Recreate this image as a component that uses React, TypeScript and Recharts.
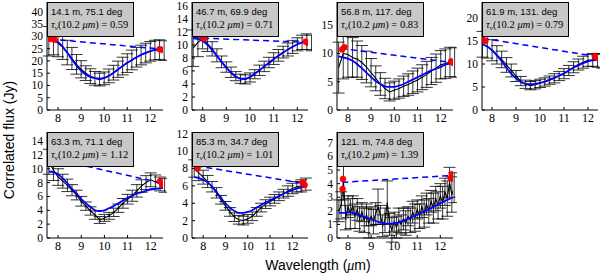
import { ComposedChart, Line, XAxis, YAxis, ErrorBar } from 'recharts';

// wavelength grids (micron)
const wl = [7.6, 7.8, 8.0, 8.2, 8.4, 8.6, 8.8, 9.0, 9.2, 9.4, 9.6, 9.8, 10.0, 10.2, 10.4, 10.6, 10.8, 11.0, 11.2, 11.4, 11.6, 11.8, 12.0, 12.2, 12.4, 12.6];
const wlFine = [
  7.6, 7.7, 7.8, 7.9, 8.0, 8.1, 8.2, 8.3, 8.4, 8.5, 8.6, 8.7, 8.8, 8.9, 9.0, 9.1, 9.2,
  9.3, 9.4, 9.5, 9.6, 9.7, 9.8, 9.9, 10.0, 10.1, 10.2, 10.3, 10.4, 10.5, 10.6, 10.7,
  10.8, 10.9, 11.0, 11.1, 11.2, 11.3, 11.4, 11.5, 11.6, 11.7, 11.8, 11.9, 12.0, 12.1,
  12.2, 12.3, 12.4, 12.5, 12.6,
];
const xTicks = [8, 9, 10, 11, 12];

// correlated flux (Jy), error, model
const flux1 = [28.0, 28.5, 27.2, 25.6, 23.4, 21.0, 18.6, 16.6, 15.0, 13.8, 12.9, 12.4, 12.9, 13.9, 15.2, 16.6, 17.9, 19.1, 20.4, 21.5, 22.4, 23.2, 23.9, 24.4, 24.6, 24.2];
const err1 = [6, 6, 5.5, 5, 5, 4.5, 4, 3.5, 3, 3, 2.8, 2.6, 2.6, 2.8, 3, 3.3, 3.6, 3.8, 4, 4, 4, 4, 4, 4, 4, 4];
const model1 = [29.0, 28.6, 27.6, 25.8, 23.3, 20.6, 18.1, 16.0, 14.5, 13.5, 13.0, 12.8, 13.1, 13.9, 15.1, 16.5, 17.9, 19.2, 20.4, 21.5, 22.5, 23.3, 24.0, 24.5, 24.8, 24.9];

const flux2 = [9.5, 10.4, 10.9, 10.2, 9.4, 8.4, 7.4, 6.6, 5.8, 5.2, 4.8, 4.7, 5.0, 5.5, 6.1, 6.7, 7.3, 7.9, 8.4, 8.9, 9.3, 9.7, 10.1, 10.4, 10.5, 10.3];
const err2 = [2.8, 2.2, 1.5, 1.2, 1.1, 1.0, 0.9, 0.8, 0.8, 0.7, 0.7, 0.7, 0.7, 0.7, 0.8, 0.8, 0.8, 0.9, 0.9, 0.9, 1.0, 1.0, 1.0, 1.1, 1.2, 1.2];
const model2 = [11.0, 10.9, 10.6, 10.0, 9.2, 8.3, 7.4, 6.5, 5.7, 5.1, 4.8, 4.8, 5.1, 5.6, 6.1, 6.7, 7.2, 7.8, 8.3, 8.8, 9.3, 9.7, 10.1, 10.4, 10.6, 10.7];

const flux3 = [7.5, 10.0, 9.8, 9.3, 9.0, 8.4, 7.6, 6.6, 5.6, 4.6, 3.8, 3.2, 3.5, 3.8, 4.2, 4.5, 4.9, 5.3, 5.8, 6.3, 6.9, 7.4, 8.0, 8.2, 8.5, 8.4];
const err3 = [4.5, 4.5, 4, 3.5, 3.2, 3, 2.8, 2.5, 2.2, 2, 1.8, 1.6, 1.6, 1.7, 1.8, 1.9, 2, 2.1, 2.2, 2.3, 2.4, 2.5, 2.5, 2.6, 2.6, 2.6];
const model3 = [9.5, 9.3, 9.1, 8.7, 8.1, 7.4, 6.6, 5.8, 5.1, 4.6, 4.2, 4.1, 4.1, 4.3, 4.6, 5.0, 5.4, 5.8, 6.2, 6.6, 7.0, 7.3, 7.6, 8.0, 8.2, 8.3];

const flux4 = [14.3, 13.8, 13.0, 12.0, 11.0, 9.8, 8.6, 7.4, 6.3, 5.6, 5.3, 5.5, 5.8, 6.1, 6.5, 6.9, 7.4, 7.9, 8.6, 9.3, 9.9, 10.4, 10.8, 10.9, 10.8, 10.6];
const err4 = [2.8, 2.5, 2.3, 2.0, 1.8, 1.6, 1.4, 1.2, 1.0, 0.9, 0.9, 0.9, 0.9, 0.9, 0.9, 1.0, 1.0, 1.1, 1.1, 1.2, 1.2, 1.3, 1.3, 1.4, 1.5, 1.5];
const model4 = [14.3, 13.8, 13.0, 11.9, 10.6, 9.2, 7.9, 6.9, 6.1, 5.7, 5.6, 5.7, 5.9, 6.2, 6.6, 7.0, 7.5, 8.0, 8.6, 9.2, 9.7, 10.2, 10.6, 10.8, 10.9, 10.9];

const flux5 = [11.0, 9.8, 8.8, 8.2, 7.6, 6.9, 6.2, 5.3, 4.6, 3.9, 3.3, 2.6, 2.9, 3.2, 3.7, 4.3, 5.0, 5.6, 6.1, 6.8, 7.5, 8.0, 8.4, 8.1, 7.8, 7.6];
const err5 = [1.8, 1.5, 1.2, 1.0, 0.9, 0.8, 0.7, 0.7, 0.6, 0.6, 0.6, 0.5, 0.5, 0.5, 0.6, 0.6, 0.7, 0.7, 0.8, 0.9, 0.9, 1.0, 1.0, 1.0, 1.0, 1.0];
const model5 = [9.6, 9.5, 9.2, 8.6, 7.9, 7.1, 6.4, 5.6, 5.0, 4.5, 4.0, 3.9, 4.0, 4.3, 4.6, 5.0, 5.4, 5.8, 6.1, 6.4, 6.6, 6.8, 7.0, 7.1, 7.2, 7.2];

const flux6 = [8.0, 7.5, 7.0, 6.5, 5.9, 5.2, 4.4, 3.7, 3.0, 2.4, 2.1, 2.0, 2.2, 2.5, 3.0, 3.5, 3.9, 4.2, 4.5, 4.8, 5.1, 5.4, 5.7, 5.9, 6.0, 6.2];
const err6 = [1.0, 0.9, 0.8, 0.7, 0.6, 0.6, 0.5, 0.5, 0.5, 0.5, 0.5, 0.5, 0.5, 0.5, 0.5, 0.5, 0.5, 0.5, 0.5, 0.5, 0.5, 0.6, 0.6, 0.6, 0.7, 0.7];
const model6 = [7.0, 6.9, 6.7, 6.4, 5.9, 5.3, 4.6, 4.0, 3.5, 3.1, 2.9, 2.9, 3.0, 3.2, 3.5, 3.8, 4.1, 4.3, 4.6, 4.8, 5.1, 5.3, 5.5, 5.7, 5.8, 5.9];

// longest baseline: noisy, sampled on the fine grid
const flux7 = [
  2.0, 2.4, 4.2, 1.5, 2.3, 1.8, 2.4, 1.6, 2.1, 1.4, 1.9, 1.3, 1.7, 1.1, 1.6, 1.2, 1.8,
  2.3, 1.7, 0.9, 1.3, 2.6, 1.0, 0.6, 1.2, 0.8, 1.3, 1.0, 1.4, 1.1, 1.6, 1.3,
  1.9, 1.5, 2.1, 1.6, 2.3, 1.8, 2.5, 2.0, 2.7, 2.2, 2.9, 2.4, 3.1, 2.6,
  3.4, 2.9, 4.1, 3.2, 3.7,
];
const err7 = [
  0.8, 1.0, 1.4, 0.9, 0.8, 1.1, 0.7, 0.9, 0.8, 0.9, 0.7, 0.9, 0.8, 1.1, 0.7, 0.9, 0.8,
  1.3, 0.7, 0.8, 0.9, 1.6, 0.8, 0.9, 0.7, 0.8, 0.9, 0.7, 0.8, 0.9, 0.7, 0.9,
  0.8, 1.0, 0.7, 0.9, 0.8, 1.0, 0.8, 0.9, 0.8, 1.1, 0.9, 1.0, 0.9, 1.2,
  1.0, 1.3, 1.1, 1.3, 1.1,
];
const model7 = [1.85, 1.85, 1.9, 1.85, 1.75, 1.6, 1.5, 1.38, 1.25, 1.15, 1.08, 1.05, 1.08, 1.15, 1.28, 1.42, 1.57, 1.72, 1.88, 2.03, 2.2, 2.38, 2.55, 2.72, 2.88, 3.0];

// dashed line end points and red photometry points [wavelength, flux]
const ends1 = [[7.65, 28.9], [12.5, 24.8]];
const red1 = [[7.7, 28.9], [7.85, 28.6], [12.4, 24.8], [12.5, 24.5]];
const ends2 = [[7.6, 11.1], [12.4, 10.4]];
const red2 = [[7.95, 11.3], [8.05, 11.0], [12.35, 10.5], [12.45, 10.3]];
const ends3 = [[7.7, 10.9], [12.5, 8.4]];
const red3 = [[7.75, 10.7], [7.85, 11.1], [12.45, 8.6], [12.55, 8.3]];
const ends4 = [[7.62, 15.6], [12.4, 11.6]];
const red4 = [[7.6, 16.2], [7.72, 15.0], [12.3, 11.7], [12.4, 11.3]];
const ends5 = [[7.55, 11.6], [12.4, 8.0]];
const red5 = [[7.55, 11.9], [7.6, 11.2], [12.4, 8.2], [12.5, 7.7]];
const ends6 = [[7.7, 8.3], [12.5, 6.3]];
const red6 = [[7.7, 8.4], [7.75, 8.0], [12.45, 6.4], [12.55, 6.1]];
const ends7 = [[7.75, 4.1], [12.5, 4.6]];
const red7 = [[7.78, 4.35], [7.76, 3.6], [12.45, 4.4], [12.5, 4.7]];

// annotation labels
const baselines = ['14.1 m, 75.1 deg', '46.7 m, 69.9 deg', '56.8 m, 117. deg', '61.9 m, 131. deg', '63.3 m, 71.1 deg', '85.3 m, 34.7 deg', '121. m, 74.8 deg'];
const taus = ['0.59', '0.71', '0.83', '0.79', '1.12', '1.01', '1.39'];

const yTicks = [
  [0, 5, 10, 15, 20, 25, 30, 35, 40],
  [0, 2, 4, 6, 8, 10, 12, 14, 16],
  [0, 5, 10, 15],
  [0, 5, 10, 15, 20],
  [0, 2, 4, 6, 8, 10, 12, 14],
  [0, 2, 4, 6, 8, 10, 12],
  [0, 1, 2, 3, 4, 5, 6, 7],
];
const yMax = [44, 16.6, 19.1, 23.5, 15.3, 12.2, 7.8];
const xDomains = [
  [7.52, 12.55], [7.55, 12.45], [7.53, 12.53], [7.58, 12.42],
  [7.52, 12.53], [7.5, 12.7], [7.52, 12.55],
];

const rows = (xs: number[], ys: number[], es?: number[]) =>
  xs.map((x, i) => ({ x, y: ys[i], e: es ? es[i] : 0 }));
const pts = (p: number[][]) => p.map(([x, y]) => ({ x, y }));

const panels = [
  { data: rows(wl, flux1, err1), model: rows(wl, model1), ends: pts(ends1), red: pts(red1) },
  { data: rows(wl, flux2, err2), model: rows(wl, model2), ends: pts(ends2), red: pts(red2) },
  { data: rows(wl, flux3, err3), model: rows(wl, model3), ends: pts(ends3), red: pts(red3) },
  { data: rows(wl, flux4, err4), model: rows(wl, model4), ends: pts(ends4), red: pts(red4) },
  { data: rows(wl, flux5, err5), model: rows(wl, model5), ends: pts(ends5), red: pts(red5) },
  { data: rows(wl, flux6, err6), model: rows(wl, model6), ends: pts(ends6), red: pts(red6) },
  { data: rows(wlFine, flux7, err7), model: rows(wl, model7), ends: pts(ends7), red: pts(red7) },
];

// layout of the 4 + 3 grid (px)
const COLS = [47, 192, 337, 482];
const ROWS = [2, 132];
const HEIGHTS = [108, 106];
const PW = 116;
const YW = 35;
const TOP = 6;
const XH = 22;

const SERIF = 'Liberation Serif';

const XTick = (props: any) => (
  <text x={props.x} y={props.y} dy={9} textAnchor="middle" fontFamily={SERIF} fontSize={12} fill="#000">
    {props.payload.value}
  </text>
);
const YTick = (props: any) => (
  <text x={props.x} y={props.y} dy={4} textAnchor="end" fontFamily={SERIF} fontSize={11.5} fill="#000">
    {props.payload.value}
  </text>
);

function Panel({ i }: { i: number }) {
  const p = panels[i];
  const r = i < 4 ? 0 : 1;
  const left = COLS[i % 4];
  const top = ROWS[r];
  const h = HEIGHTS[r];
  const yd = [0, yMax[i]];
  const xd = xDomains[i];
  return (
    <div style={{ position: 'absolute', left: left - YW, top: top - TOP }}>
      <ComposedChart width={YW + PW + 4} height={TOP + h + XH} margin={{ top: TOP, right: 4, bottom: 0, left: 0 }}>
        <XAxis xAxisId={0} dataKey="x" type="number" domain={xd} ticks={xTicks} interval={0}
          allowDataOverflow height={XH} tickSize={-3} tickMargin={6} stroke="#000" tick={<XTick />} />
        <XAxis xAxisId="t" orientation="top" dataKey="x" type="number" domain={xd} ticks={xTicks}
          allowDataOverflow height={0} tickSize={-3} tick={false} stroke="#000" />
        <YAxis yAxisId={0} type="number" domain={yd} ticks={yTicks[i]} interval={0} allowDataOverflow
          width={YW} tickSize={-3} tickMargin={7} stroke="#000" tick={<YTick />} />
        <YAxis yAxisId="r" orientation="right" type="number" domain={yd} ticks={yTicks[i]} allowDataOverflow
          width={0} tickSize={-3} tick={false} stroke="#000" />
        <Line data={p.data} dataKey="y" stroke="#000" strokeWidth={1.1} dot={false} isAnimationActive={false}>
          <ErrorBar dataKey="e" direction="y" width={6} stroke="#000" strokeWidth={0.8} />
        </Line>
        <Line data={p.model} dataKey="y" type="monotone" stroke="#0000ff" strokeWidth={1.8} dot={false} isAnimationActive={false} />
        <Line data={p.ends} dataKey="y" stroke="#0000ff" strokeWidth={1.5} strokeDasharray="6 4" dot={false} isAnimationActive={false} />
        <Line data={p.red} dataKey="y" stroke="none" dot={{ r: 3, fill: '#ff0000', stroke: '#ff0000', strokeWidth: 0.5 }} isAnimationActive={false} />
      </ComposedChart>
    </div>
  );
}

function Label({ i }: { i: number }) {
  const r = i < 4 ? 0 : 1;
  return (
    <div style={{
      position: 'absolute', left: COLS[i % 4], top: ROWS[r], background: '#c8c8c8',
      border: '1px solid #000', padding: '2px 5px 3px 3px', whiteSpace: 'nowrap', lineHeight: '13px',
    }}>
      <div style={{ fontFamily: 'Liberation Sans', fontSize: 9.5 }}>{baselines[i]}</div>
      <div style={{ fontFamily: SERIF, fontSize: 10.5 }}>
        <i>τ</i><i style={{ fontSize: 7, position: 'relative', top: 2 }}>ν</i>(10.2 <i>μm</i>) = {taus[i]}
      </div>
    </div>
  );
}

export default function App() {
  const ids = [0, 1, 2, 3, 4, 5, 6];
  return (
    <div style={{ position: 'absolute', left: 0, top: 0, width: 600, height: 278, background: '#fff', overflow: 'hidden' }}>
      {ids.map((i) => <Panel key={i} i={i} />)}
      {ids.map((i) => <Label key={'l' + i} i={i} />)}
      <svg width={600} height={278} style={{ position: 'absolute', left: 0, top: 0, pointerEvents: 'none' }}>
        <text x={318} y={270} textAnchor="middle" fontFamily="Liberation Sans" fontSize={14} fill="#000">
          Wavelength (<tspan fontFamily={SERIF} fontStyle="italic">μ</tspan>m)
        </text>
        <text transform="translate(14,140) rotate(-90)" textAnchor="middle" fontFamily="Liberation Sans" fontSize={14} fill="#000">
          Correlated flux (Jy)
        </text>
      </svg>
    </div>
  );
}
